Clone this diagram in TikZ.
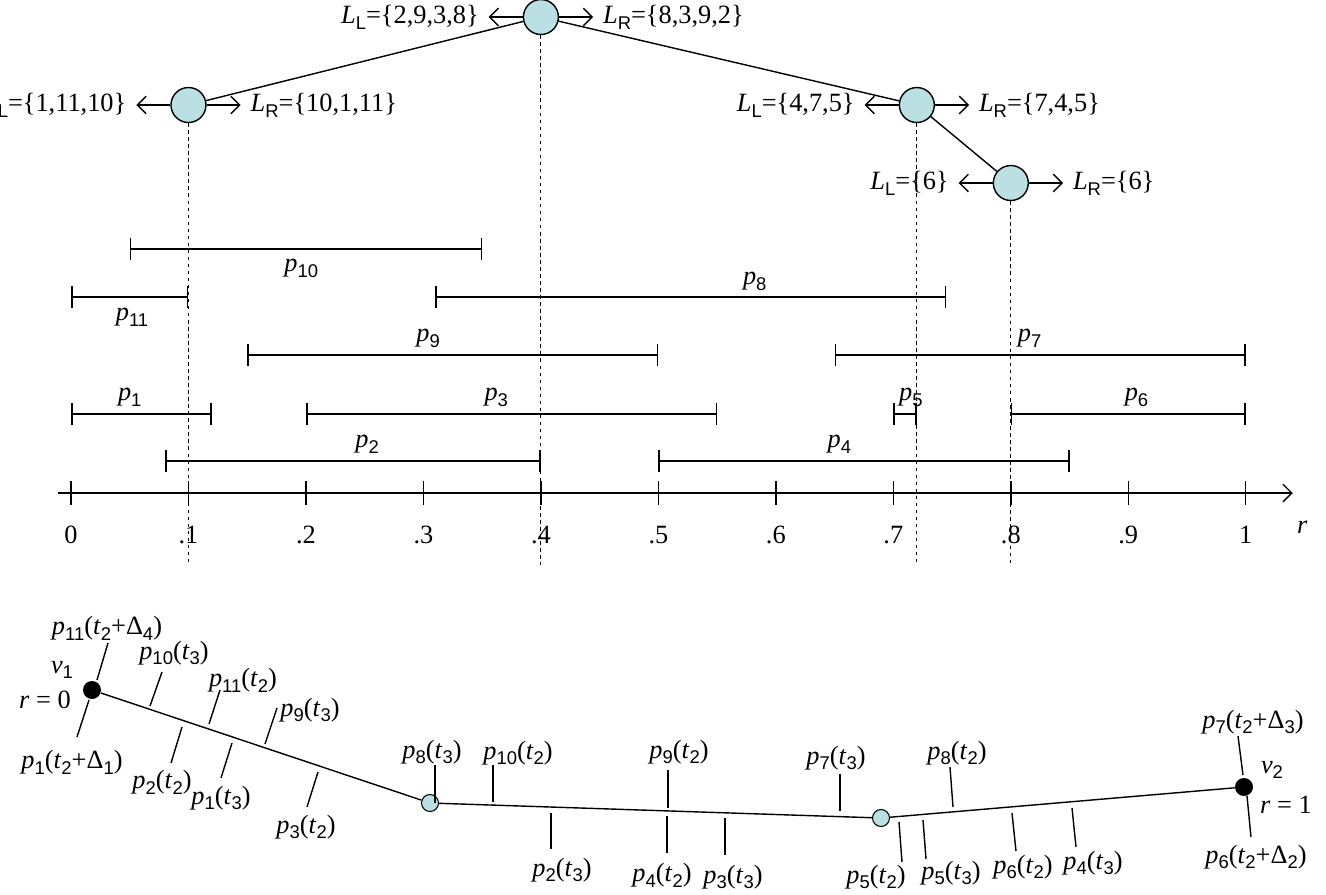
\documentclass[tikz,border=0pt]{standalone}
\usepackage{fontspec}
\setmainfont{Liberation Serif}
\setsansfont{Liberation Sans}
\usetikzlibrary{arrows.meta, positioning}
\definecolor{nodefill}{RGB}{187,224,227}
\newcommand{\lsub}[1]{\raisebox{-0.22em}{\fontsize{10.5}{12}\selectfont\sffamily #1}}
\newcommand{\pjob}[1]{\textit{p}\lsub{#1}}
\newcommand{\tst}[1]{\textit{t}\lsub{#1}}
\newcommand{\setL}{\textit{L}\lsub{L}}
\newcommand{\setR}{\textit{L}\lsub{R}}

\begin{document}
\begin{tikzpicture}[x=0.02cm, y=-0.02cm, font=\fontsize{15}{18}\selectfont,
  tnode/.style={circle, draw, fill=nodefill, minimum size=0.7cm, inner sep=0pt, line width=0.8pt},
  small/.style={circle, draw, fill=nodefill, minimum size=0.34cm, inner sep=0pt, line width=0.6pt},
  dot/.style={circle, fill=black, minimum size=0.36cm, inner sep=0pt},
  lab/.style={inner sep=5.5pt},
  arr/.style={-{Straight Barb[length=5pt,width=10pt]}, line width=0.8pt},
  guide/.style={dash pattern=on 2pt off 2pt, line width=0.5pt},
  seg/.style={{Bar[width=13pt]}-{Bar[width=13pt]}, line width=0.9pt},
  stem/.style={line width=0.8pt}
]
\useasboundingbox (0,0) rectangle (1326,894);

\begin{scope}[shift={(71,0)}, x=23.5cm]
%% TREE
\node[tnode] (nA) at (0.4,17)   {};
\node[tnode] (nB) at (0.1,105)  {};
\node[tnode] (nC) at (0.72,105) {};
\node[tnode] (nD) at (0.8,183)  {};
\draw[line width=0.8pt] (nA) -- (nB); \draw[line width=0.8pt] (nA) -- (nC); \draw[line width=0.8pt] (nC) -- (nD);
\node[lab, left=0.68cm of nA]  (nAl) {\setL=\{2,9,3,8\}};
\node[lab, right=0.68cm of nA] (nAr) {\setR=\{8,3,9,2\}};
\node[lab, left=0.68cm of nB]  (nBl) {\setL=\{1,11,10\}};
\node[lab, right=0.68cm of nB] (nBr) {\setR=\{10,1,11\}};
\node[lab, left=0.68cm of nC]  (nCl) {\setL=\{4,7,5\}};
\node[lab, right=0.68cm of nC] (nCr) {\setR=\{7,4,5\}};
\node[lab, left=0.68cm of nD]  (nDl) {\setL=\{6\}};
\node[lab, right=0.68cm of nD] (nDr) {\setR=\{6\}};
\draw[arr] (nA) -- (nAl); \draw[arr] (nA) -- (nAr);
\draw[arr] (nB) -- (nBl); \draw[arr] (nB) -- (nBr);
\draw[arr] (nC) -- (nCl); \draw[arr] (nC) -- (nCr);
\draw[arr] (nD) -- (nDl); \draw[arr] (nD) -- (nDr);
%% GUIDES
\coordinate (gbot) at (0,565);
\draw[guide] (nA.south) -- (nA |- gbot);
\draw[guide] (nB.south) -- (nB |- gbot);
\draw[guide] (nC.south) -- (nC |- gbot);
\draw[guide] (nD.south) -- (nD |- gbot);
%% INTERVALS
\draw[seg] (0.05,249) -- (0.35,249);   \node (p10) at (0.196,268) {\pjob{10}};
\draw[seg] (0,297) -- (0.1,297);       \node (p11) at (0.052,317) {\pjob{11}};
\draw[seg] (0.31,297) -- (0.745,297);  \node (p8)  at (0.582,281) {\pjob{8}};
\draw[seg] (0.15,355) -- (0.5,355);    \node (p9)  at (0.304,338) {\pjob{9}};
\draw[seg] (0.65,355) -- (1,355);      \node (p7)  at (0.816,338) {\pjob{7}};
\draw[seg] (0,414) -- (0.12,414);      \node (p1)  at (0.05,397)  {\pjob{1}};
\draw[seg] (0.2,414) -- (0.55,414);    \node (p3)  at (0.362,397) {\pjob{3}};
\draw[seg] (0.7,414) -- (0.72,414);    \node (p5)  at (0.715,397) {\pjob{5}};
\draw[seg] (0.8,414) -- (1,414);       \node (p6)  at (0.907,397) {\pjob{6}};
\draw[seg] (0.08,461) -- (0.4,461);    \node (p2)  at (0.252,444) {\pjob{2}};
\draw[seg] (0.5,461) -- (0.85,461);    \node (p4)  at (0.654,444) {\pjob{4}};
%% AXIS
\coordinate (ax0) at (-0.011,493);
\coordinate (ax1) at (1.04,493);
\draw[arr] (ax0) -- (ax1);
\foreach \i/\t in {0/0, 1/.1, 2/.2, 3/.3, 4/.4, 5/.5, 6/.6, 7/.7, 8/.8, 9/.9, 10/1} {
  \draw[line width=0.8pt] (\i/10,481) -- (\i/10,505);
  \node (tk\i) at (\i/10,535) {\t};
}
\node (rlab) at (1.048,527) {\textit{r}};
\end{scope}

%% PATH
\node[dot]   (v1) at (92,690)   {};
\node[small] (c1) at (430,803)  {};
\node[small] (c2) at (881,818)  {};
\node[dot]   (v2) at (1244,787) {};
\draw[line width=0.8pt] (v1) -- (c1) -- (c2) -- (v2);
\node (v1l) at (62,670)  {\textit{v}\lsub{1}};
\node (r0)  at (45,700)  {\textit{r} = 0};
\node (v2l) at (1272,770) {\textit{v}\lsub{2}};
\node (r1)  at (1286,805) {\textit{r} = 1};
%% PATH LABELS
\node (q1)  at (107,628)  {\pjob{11}(\tst{2}+Δ\lsub{4})}; \draw[stem] (108,643) -- (97,680);
\node (q2)  at (72,762)   {\pjob{1}(\tst{2}+Δ\lsub{1})};  \draw[stem] (89,700) -- (77,737);
\node (q3)  at (174,653)  {\pjob{10}(\tst{3})}; \draw[stem] (162,672) -- (150,706);
\node (q4)  at (243,680)  {\pjob{11}(\tst{2})}; \draw[stem] (220,690) -- (209,724);
\node (q5)  at (310,710)  {\pjob{9}(\tst{3})};  \draw[stem] (277,708) -- (265,744);
\node (q6)  at (162,782)  {\pjob{2}(\tst{2})};  \draw[stem] (182,727) -- (171,763);
\node (q7)  at (221,798)  {\pjob{1}(\tst{3})};  \draw[stem] (232,743) -- (221,778);
\node (q8)  at (306,827)  {\pjob{3}(\tst{2})};  \draw[stem] (318,772) -- (307,807);
\node (q9)  at (432,752)  {\pjob{8}(\tst{3})};  \draw[stem] (435,765) -- (435,803);
\node (q10) at (518,753)  {\pjob{10}(\tst{2})}; \draw[stem] (493,765) -- (493,802);
\node (q11) at (562,870)  {\pjob{2}(\tst{3})};  \draw[stem] (551,813) -- (551,849);
\node (q12) at (679,752)  {\pjob{9}(\tst{2})};  \draw[stem] (668,770) -- (668,808);
\node (q13) at (662,875)  {\pjob{4}(\tst{2})};  \draw[stem] (667,816) -- (667,853);
\node (q14) at (733,877)  {\pjob{3}(\tst{3})};  \draw[stem] (725,818) -- (725,855);
\node (q15) at (836,758)  {\pjob{7}(\tst{3})};  \draw[stem] (840,774) -- (840,811);
\node (q16) at (876,877)  {\pjob{5}(\tst{2})};  \draw[stem] (899,822) -- (902,862);
\node (q17) at (951,873)  {\pjob{5}(\tst{3})};  \draw[stem] (923,820) -- (926,859);
\node (q18) at (957,753)  {\pjob{8}(\tst{2})};  \draw[stem] (950,767) -- (953,807);
\node (q19) at (1023,867) {\pjob{6}(\tst{2})};  \draw[stem] (1012,813) -- (1016,851);
\node (q20) at (1093,863) {\pjob{4}(\tst{3})};  \draw[stem] (1072,808) -- (1076,847);
\node (q21) at (1253,722) {\pjob{7}(\tst{2}+Δ\lsub{3})}; \draw[stem] (1238,736) -- (1243,775);
\node (q22) at (1256,857) {\pjob{6}(\tst{2}+Δ\lsub{2})}; \draw[stem] (1247,796) -- (1251,837);
\end{tikzpicture}
\end{document}
